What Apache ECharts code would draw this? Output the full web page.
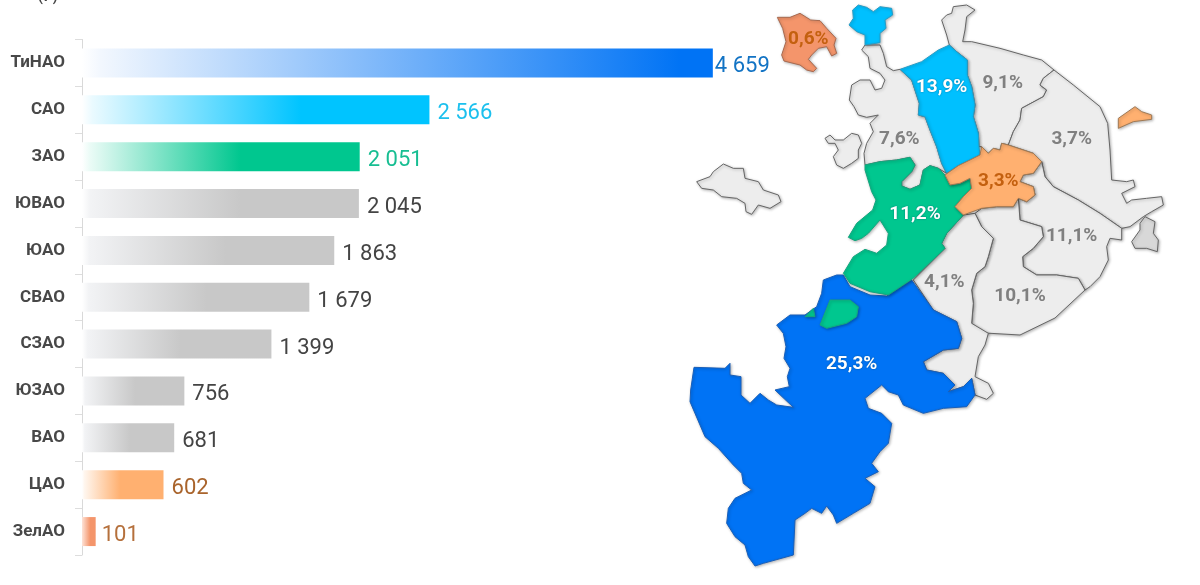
<!DOCTYPE html>
<html><head><meta charset="utf-8">
<style>html,body{margin:0;padding:0;background:#fff}#c{width:1200px;height:585px}</style>
<script src="https://cdn.jsdelivr.net/npm/echarts@6/dist/echarts.min.js"></script>
</head><body><div id="c"></div>
<script>
const categories = ['ТиНАО','САО','ЗАО','ЮВАО','ЮАО','СВАО','СЗАО','ЮЗАО','ВАО','ЦАО','ЗелАО'];
const values = [4659,2566,2051,2045,1863,1679,1399,756,681,602,101];
const valueLabels = ['4 659','2 566','2 051','2 045','1 863','1 679','1 399','756','681','602','101'];
const barColors = ['#0073F5','#00C4FF','#00C78F','#C8C8C8','#C8C8C8','#C8C8C8','#C8C8C8','#C8C8C8','#C8C8C8','#FFB070','#F4956B'];
const barStartColors = ['#F2F7FE','#EAFAFF','#EAFBF6','#F2F3F5','#F2F3F5','#F2F3F5','#F2F3F5','#F2F3F5','#F2F3F5','#FFF6EE','#FDDFD2'];
const barFullAt = [0.95,0.63,0.57,0.57,0.57,0.55,0.52,0.52,0.52,0.47,0.6];
const labelColors = ['#1273C4','#1CC0EE','#17BE92','#444','#444','#444','#444','#444','#444','#A9642C','#B5703C'];
const labelGaps = [2,8,8,8,8,8,8,8,8,8,6];

const regionNames = ['ТиНАО','САО','ЗАО','СВАО','ВАО','ЮВАО','ЮАО','ЮЗАО','СЗАО','ЦАО','ЗелАО','Косино'];
const regionShares = ['25,3%','13,9%','11,2%','9,1%','3,7%','11,1%','10,1%','4,1%','7,6%','3,3%','0,6%',''];
const regionColors = ['#0073F5','#00C0FF','#00C78F','#EDEDED','#EDEDED','#EDEDED','#EDEDED','#EDEDED','#EDEDED','#FFB070','#F4956B','#D8D8D8'];
const regionBorders = ['#1A5FB8','#2A9CC4','#17A57E','#666','#666','#666','#666','#666','#666','#A07A55','#A86A50','#666'];
const regionTextColors = ['#fff','#fff','#fff','#808080','#808080','#808080','#808080','#808080','#808080','#C4600F','#C4600F','#808080'];

// region outlines (third-of-a-pixel units from the map's corner)
const outlines = {
 'ТиНАО':[[[430,840],[470,825],[490,825],[510,860],[570,885],[620,888],[695,840],[760,930],[830,965],[845,1015],[835,1045],[790,1050],[730,1085],[740,1110],[790,1120],[825,1155],[805,1175],[850,1160],[875,1135],[885,1185],[860,1220],[790,1225],[730,1240],[670,1215],[655,1185],[625,1175],[605,1155],[555,1195],[565,1225],[605,1240],[635,1270],[625,1330],[600,1355],[575,1390],[595,1415],[555,1435],[585,1460],[570,1510],[520,1540],[495,1555],[470,1570],[460,1545],[440,1518],[425,1540],[395,1525],[375,1540],[345,1560],[340,1665],[250,1690],[225,1698],[205,1670],[195,1635],[165,1610],[140,1570],[145,1525],[165,1495],[215,1470],[190,1450],[185,1420],[160,1395],[115,1345],[75,1310],[30,1205],[32,1170],[42,1102],[135,1105],[150,1090],[150,1125],[183,1130],[183,1185],[210,1210],[240,1180],[265,1200],[290,1215],[340,1222],[285,1170],[328,1160],[322,1130],[330,1105],[312,1075],[318,1040],[310,1000],[290,975],[330,945],[375,945],[410,920],[425,880]]],
 'САО':[[[518,30],[535,15],[560,22],[580,35],[600,20],[635,25],[638,45],[615,60],[618,85],[600,100],[600,128],[555,135],[555,105],[530,95],[507,75],[520,55]],
        [[660,208],[725,185],[775,150],[808,135],[830,155],[862,180],[862,225],[875,260],[885,315],[880,350],[895,400],[897,440],[900,465],[870,480],[835,497],[800,520],[785,490],[770,440],[750,390],[735,350],[715,345],[718,310],[695,240]]],
 'СЗАО':[[[555,135],[600,135],[610,160],[620,200],[640,212],[660,208],[695,240],[718,310],[715,345],[735,350],[750,390],[770,440],[785,490],[800,520],[775,505],[750,497],[730,510],[720,555],[690,568],[665,558],[665,545],[695,515],[705,495],[690,472],[650,480],[600,485],[555,495],[552,460],[560,430],[580,395],[570,370],[595,345],[560,352],[535,345],[522,320],[508,300],[515,255],[540,240],[570,240],[585,270],[605,265],[615,240],[600,220],[570,205],[565,170],[545,150]],
         [[435,415],[450,405],[465,420],[490,420],[515,400],[535,405],[545,430],[535,450],[535,475],[515,490],[490,505],[470,495],[460,470],[475,450],[465,430],[445,430]],
         [[50,545],[90,530],[100,515],[130,492],[160,505],[190,505],[195,535],[235,545],[250,570],[295,585],[303,605],[270,625],[235,615],[215,643],[198,635],[195,610],[170,595],[125,590],[100,570],[65,565]]],
 'СВАО':[[[808,135],[800,105],[785,60],[800,45],[815,40],[820,20],[860,15],[885,30],[860,50],[855,90],[848,125],[875,125],[960,145],[1030,165],[1085,180],[1122,210],[1090,235],[1080,255],[1100,270],[1090,290],[1025,325],[1020,360],[1000,395],[985,435],[965,430],[960,450],[940,445],[925,460],[905,440],[897,440],[895,400],[880,350],[885,315],[875,260],[862,225],[862,180],[830,155]]],
 'ВАО':[[[1122,210],[1180,255],[1260,320],[1283,370],[1290,450],[1295,540],[1340,545],[1360,540],[1365,560],[1325,580],[1340,610],[1355,600],[1400,595],[1445,590],[1450,615],[1415,635],[1390,650],[1350,680],[1325,685],[1260,640],[1195,600],[1120,560],[1095,530],[1085,485],[1060,460],[985,435],[1000,395],[1020,360],[1025,325],[1090,290],[1100,270],[1080,255],[1090,235]]],
 'ЮВАО':[[[1015,595],[1040,605],[1065,585],[1060,560],[1020,545],[1030,525],[1060,520],[1085,485],[1095,530],[1120,560],[1195,600],[1260,640],[1325,685],[1325,720],[1290,715],[1280,740],[1285,780],[1260,830],[1230,860],[1215,870],[1195,835],[1130,825],[1070,825],[1030,800],[1028,770],[1060,745],[1090,710],[1085,680],[1020,660]]],
 'ЮАО':[[[885,640],[905,625],[950,620],[1000,620],[1015,595],[1020,660],[1085,680],[1090,710],[1060,745],[1028,770],[1030,800],[1070,825],[1130,825],[1195,835],[1215,870],[1125,954],[1020,1005],[915,999],[875,970],[880,910],[875,870],[890,820],[915,800],[925,770],[940,715],[905,680]]],
 'ЮЗАО':[[[850,645],[885,640],[905,680],[940,715],[925,770],[915,800],[890,820],[875,870],[880,910],[875,970],[925,1000],[915,1035],[895,1070],[885,1130],[925,1150],[940,1180],[920,1198],[885,1185],[875,1135],[850,1160],[805,1175],[825,1155],[790,1120],[740,1110],[730,1085],[790,1050],[835,1045],[845,1015],[830,965],[760,930],[700,840],[795,745],[785,730],[800,700]]],
 'Косино':[[[1395,650],[1425,665],[1420,700],[1435,720],[1432,755],[1400,745],[1365,745],[1355,725],[1380,690],[1380,670]]],
 'ЗелАО':[[[292,52],[330,52],[360,40],[392,60],[420,62],[440,85],[468,115],[462,135],[470,160],[455,168],[440,140],[415,145],[395,165],[385,178],[410,205],[400,215],[380,210],[360,195],[312,183],[305,165],[318,125],[308,85]]],
 'ЦАО':[[[795,525],[835,497],[870,480],[900,465],[905,440],[925,460],[940,445],[960,450],[965,430],[985,435],[1060,460],[1085,485],[1060,520],[1030,525],[1020,545],[1060,560],[1065,585],[1040,605],[1015,595],[1000,620],[950,620],[905,625],[850,645],[825,620],[850,590],[875,565],[870,535],[840,550],[810,555]],
        [[1315,355],[1365,320],[1385,335],[1415,345],[1415,358],[1360,365],[1315,385]]],
 'ЗАО':[[[555,495],[600,485],[650,480],[690,472],[705,495],[695,515],[665,545],[665,558],[690,568],[720,555],[730,510],[750,497],[775,505],[795,525],[810,555],[840,550],[870,535],[875,565],[850,590],[825,620],[850,645],[800,700],[785,730],[795,745],[700,835],[625,885],[570,875],[510,850],[490,820],[520,770],[555,748],[590,760],[620,735],[625,700],[600,660],[565,700],[545,715],[525,722],[505,712],[530,670],[578,630],[588,600],[575,575],[555,510]],
        [[420,975],[450,900],[510,900],[535,920],[530,950],[500,970],[440,985]],
        [[375,950],[400,925],[405,950]]]
};
const labelSpots = {'ТиНАО':[515,1093],'САО':[785,262],'ЗАО':[705,644],'СВАО':[968,250],'ВАО':[1175,418],'ЮВАО':[1175,710],'ЮАО':[1020,890],'ЮЗАО':[793,847],'СЗАО':[658,418],'ЦАО':[955,545],'ЗелАО':[385,118],'Косино':[1395,710]};

const drawOrder = ['СЗАО','СВАО','ВАО','ЮВАО','ЮАО','ЮЗАО','Косино','ТиНАО','САО','ЗАО','ЦАО','ЗелАО'];
const toPage = p => [680 + p[0] / 3, p[1] / 3];
const geo = {type:'FeatureCollection',features:drawOrder.map(name => ({
  type:'Feature',
  properties:{name, cp:toPage(labelSpots[name])},
  geometry:{type:'MultiPolygon',coordinates:outlines[name].map(r => [r.map(toPage).concat([toPage(r[0])])])}
}))};
echarts.registerMap('moscow', geo);

const chart = echarts.init(document.getElementById('c'), null, {renderer:'canvas'});
chart.setOption({
  animation:false,
  backgroundColor:'#fff',
  grid:{left:82,top:39.5,width:677,height:515.5,containLabel:false},
  xAxis:{type:'value',min:0,max:5000,show:false},
  yAxis:{type:'category',inverse:true,data:categories,
    axisLine:{show:true,lineStyle:{color:'#D9D9D9',width:1}},
    axisTick:{show:true,length:7,lineStyle:{color:'#DDDDDD'}},
    axisLabel:{margin:17,padding:[8,0,0,0],fontFamily:'Roboto',fontWeight:'bold',fontSize:17,color:'#484848'}},
  graphic:[{type:'text',left:38,top:-10,style:{text:'(₽)',fontFamily:'Roboto',fontWeight:'bold',fontSize:14,fill:'#444'}}],
  series:[
    {type:'bar',barWidth:29,silent:true,
     data:values.map((v,i)=>({value:v,
       itemStyle:{color:{type:'linear',x:0,y:0,x2:1,y2:0,colorStops:[
         {offset:0,color:'#FFFFFF'},{offset:0.03,color:barStartColors[i]},{offset:barFullAt[i],color:barColors[i]},{offset:1,color:barColors[i]}]}},
       label:{show:true,position:'right',distance:labelGaps[i],offset:[0,4],formatter:valueLabels[i],
         fontFamily:'Roboto',fontSize:22,color:labelColors[i]}}))},
    {type:'map',map:'moscow',left:0,top:0,width:1200,height:585,roam:false,selectedMode:false,silent:true,
     projection:{project:p=>p,unproject:p=>p},
     boundingCoords:[[0,0],[1200,585]],
     data:regionNames.map((n,i)=>({name:n,value:regionShares[i],
       itemStyle:{areaColor:regionColors[i],borderColor:regionBorders[i],borderWidth:1,
         shadowColor:'rgba(0,0,0,0.28)',shadowBlur:3,shadowOffsetX:1,shadowOffsetY:1},
       label:{show:regionShares[i]!=='',formatter:regionShares[i],fontFamily:'Roboto',fontWeight:'bold',fontSize:19,
         color:regionTextColors[i],textShadowColor:regionTextColors[i]==='#fff'?'rgba(0,60,90,0.6)':'transparent',textShadowBlur:2}}))}
  ]
});
</script></body></html>
